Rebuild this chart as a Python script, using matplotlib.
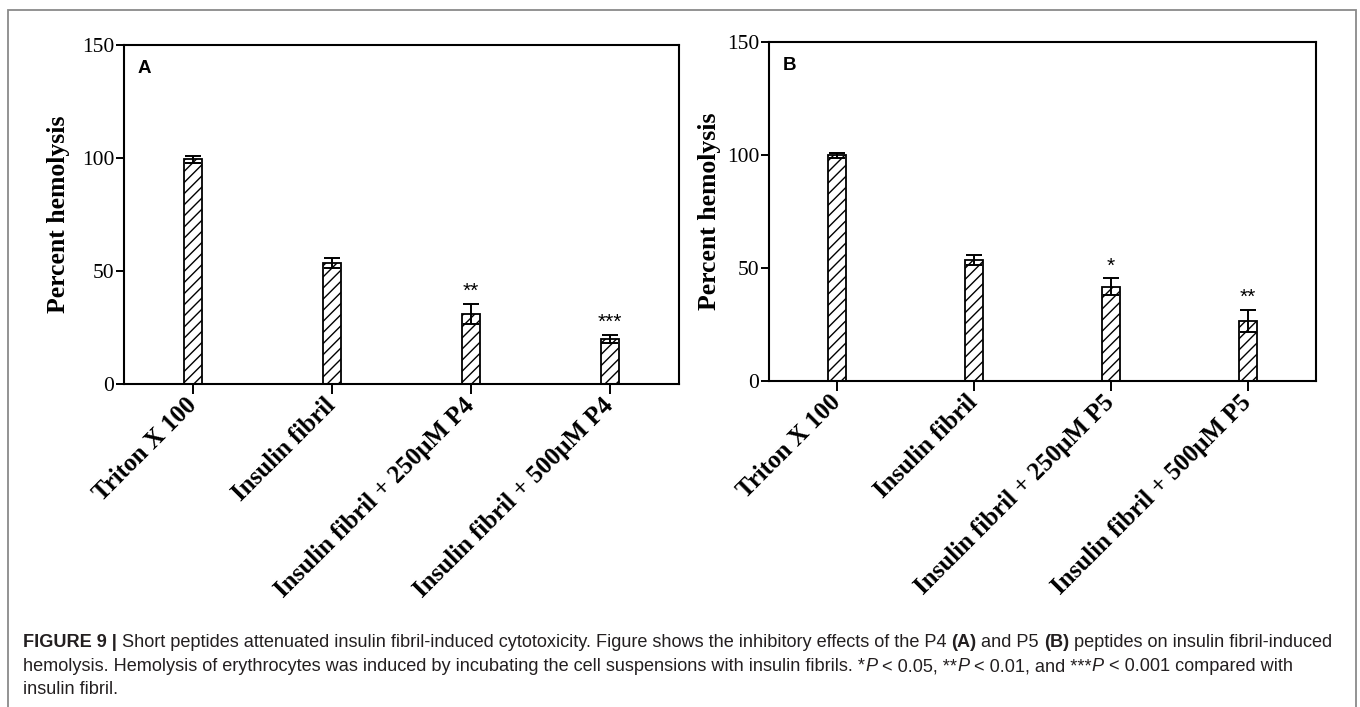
import matplotlib
matplotlib.use("Agg")
import matplotlib.pyplot as plt
from matplotlib.patches import Rectangle
import numpy as np

# ---------------- data ----------------
categories_a = ["Triton X 100", "Insulin fibril", "Insulin fibril + 250μM P4", "Insulin fibril + 500μM P4"]
values_a = [99.5, 53.5, 31.0, 20.0]
errors_a = [1.5, 2.2, 4.5, 1.7]
stars_a = ["", "", "**", "***"]

categories_b = ["Triton X 100", "Insulin fibril", "Insulin fibril + 250μM P5", "Insulin fibril + 500μM P5"]
values_b = [99.8, 53.5, 41.8, 26.5]
errors_b = [1.3, 2.2, 3.7, 5.0]
stars_b = ["", "", "*", "**"]

yticks = [0, 50, 100, 150]
panel_labels = ["A", "B"]
ylabel = "Percent hemolysis"

W, H = 1360, 707
fig = plt.figure(figsize=(W / 100, H / 100), dpi=100)
fig.patch.set_facecolor("white")

serif = ["Liberation Serif", "DejaVu Serif"]
sans = ["Liberation Sans", "DejaVu Sans"]


def px_rect(l, t, r, b):
    return [l / W, 1 - b / H, (r - l) / W, (b - t) / H]


def draw_panel(ax, cats, vals, errs, stars, label, ylab_x):
    x = np.arange(len(cats))
    ax.bar(x, vals, width=0.13, color="white", edgecolor="black",
           linewidth=1.3, hatch="///", zorder=2)
    ax.errorbar(x, vals, yerr=errs, fmt="none", ecolor="black",
                elinewidth=1.4, capsize=6, capthick=1.4, zorder=3)
    for xi, v, e, s in zip(x, vals, errs, stars):
        if s:
            ax.annotate(s, (xi, v + e), xytext=(0, 2), textcoords="offset points",
                        ha="center", va="bottom", fontsize=15, family=sans)
    ax.set_xlim(-0.5, len(cats) - 0.5)
    ax.set_ylim(0, 150)
    ax.set_yticks(yticks)
    ax.set_yticklabels([str(t) for t in yticks], family=serif, fontsize=15.5)
    ax.set_xticks(x)
    ax.set_xticklabels(cats, rotation=45, ha="right", va="center",
                       rotation_mode="anchor",
                       family=serif, fontsize=18, fontweight="bold")
    ax.tick_params(axis="y", direction="out", length=6, width=1.4, pad=1,
                   right=False)
    ax.tick_params(axis="x", direction="out", length=7, width=1.4, pad=6,
                   top=False)
    for sp in ax.spines.values():
        sp.set_linewidth(1.5)
        sp.set_color("black")
    ax.set_ylabel(ylabel, family=serif, fontsize=18.5, fontweight="bold")
    ax.yaxis.set_label_coords(ylab_x, 0.5)
    ax.text(0.025, 0.93, label, transform=ax.transAxes, fontsize=13.5,
            fontweight="bold", family=sans, ha="left", va="center")


ax_a = fig.add_axes(px_rect(124, 45, 679, 384))
ax_b = fig.add_axes(px_rect(769, 42, 1316, 381))
draw_panel(ax_a, categories_a, values_a, errors_a, stars_a, panel_labels[0], -0.097)
draw_panel(ax_b, categories_b, values_b, errors_b, stars_b, panel_labels[1], -0.088)

# outer border
fig.patches.append(Rectangle((8 / W, -0.05), (1356 - 8) / W, 1 - 10 / H + 0.05,
                             transform=fig.transFigure, fill=False,
                             edgecolor="#8a8a8a", linewidth=1.3))

# ---------------- caption ----------------
cap_color = "#231f20"
line1 = [("FIGURE 9 |", "bold", "normal"),
         (" Short peptides attenuated insulin fibril-induced cytotoxicity. Figure shows the inhibitory effects of the P4 ", "normal", "normal"),
         ("(A)", "bold", "normal"),
         (" and P5 ", "normal", "normal"),
         ("(B)", "bold", "normal"),
         (" peptides on insulin fibril-induced", "normal", "normal")]
line2 = [("hemolysis. Hemolysis of erythrocytes was induced by incubating the cell suspensions with insulin fibrils. *", "normal", "normal"),
         ("P", "normal", "italic"),
         (" < 0.05, **", "normal", "normal"),
         ("P", "normal", "italic"),
         (" < 0.01, and ***", "normal", "normal"),
         ("P", "normal", "italic"),
         (" < 0.001 compared with", "normal", "normal")]
line3 = [("insulin fibril.", "normal", "normal")]

renderer = fig.canvas.get_renderer()


def measure(s, weight, style, size):
    t = fig.text(0, 0, "x" + s + "x", fontsize=size, fontweight=weight,
                 fontstyle=style, family=sans)
    w1 = t.get_window_extent(renderer).width
    t.remove()
    t = fig.text(0, 0, "xx", fontsize=size, fontweight=weight,
                 fontstyle=style, family=sans)
    w0 = t.get_window_extent(renderer).width
    t.remove()
    return w1 - w0


# fit first line to target width
target = 1329 - 23
base = 11.0
wtot = sum(measure(s, w, st, base) for s, w, st in line1)
cap_size = base * target / wtot


def draw_line(pieces, x0, baseline):
    x = x0
    for s, w, st in pieces:
        fig.text(x / W, 1 - baseline / H, s, fontsize=cap_size, fontweight=w,
                 fontstyle=st, family=sans, color=cap_color,
                 ha="left", va="baseline")
        x += measure(s, w, st, cap_size)


draw_line(line1, 23, 647)
draw_line(line2, 23, 671)
draw_line(line3, 23, 694)

fig.savefig("out.png", dpi=100, facecolor="white")
